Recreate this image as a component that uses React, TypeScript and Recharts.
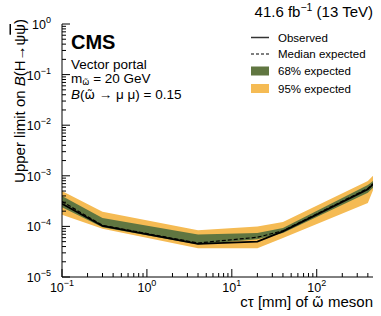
import React from "react";
import { Area, ComposedChart, Line, XAxis, YAxis } from "recharts";

// lifetime points (mm)
const ctau = [0.1, 0.3, 4, 20, 40, 400, 460];
const observed = [2.8e-4, 1.02e-4, 4.5e-5, 5.0e-5, 8.0e-5, 5.4e-4, 6.8e-4];
const median = [3.1e-4, 1.05e-4, 4.7e-5, 6.1e-5, 8.2e-5, 5.6e-4, 7.0e-4];
const band68Lo = [2.4e-4, 9.6e-5, 4.4e-5, 5.6e-5, 7.4e-5, 4.6e-4, 5.8e-4];
const band68Hi = [4.0e-4, 1.47e-4, 6.9e-5, 7.4e-5, 9.3e-5, 6.6e-4, 7.9e-4];
const band95Lo = [1.7e-4, 9.0e-5, 3.7e-5, 3.7e-5, 5.9e-5, 2.9e-4, 5.2e-4];
const band95Hi = [5.0e-4, 1.94e-4, 8.4e-5, 9.9e-5, 1.22e-4, 7.9e-4, 1.0e-3];

const xTicks = [
  0.1, 0.2, 0.3, 0.4, 0.5, 0.6, 0.7, 0.8, 0.9,
  1, 2, 3, 4, 5, 6, 7, 8, 9,
  10, 20, 30, 40, 50, 60, 70, 80, 90,
  100, 200, 300, 400,
];
const yTicks: number[] = [];
for (let e = -5; e < 0; e++) {
  for (let m = 1; m < 10; m++) yTicks.push(m * Math.pow(10, e));
}
yTicks.push(1);

const data = ctau.map((x, i) => ({
  x,
  observed: observed[i],
  median: median[i],
  band68: [band68Lo[i], band68Hi[i]],
  band95: [band95Lo[i], band95Hi[i]],
}));

const FONT = "'Liberation Sans', Arial, Helvetica, sans-serif";
const GREEN = "#607641";
const YELLOW = "#F5BB54";
const OMEGA_T = "\u03C9\u0303";

function isMajor(v: number) {
  const l = Math.log10(v);
  return Math.abs(l - Math.round(l)) < 1e-6;
}

function expLabel(v: number) {
  const e = Math.round(Math.log10(v));
  return e < 0 ? "\u2212" + Math.abs(e) : String(e);
}

const BottomTick = (props: any) => {
  const { x, y, payload } = props;
  const major = isMajor(payload.value);
  return (
    <g>
      <line x1={x} x2={x} y1={y} y2={y - (major ? 8 : 4)} stroke="#000" strokeWidth={1} />
      {major && (
        <text x={x} y={y + 15} textAnchor="middle" fontSize={12.5} fontFamily={FONT} fill="#000">
          10
          <tspan dy={-6} fontSize={9}>{expLabel(payload.value)}</tspan>
        </text>
      )}
    </g>
  );
};

const TopTick = (props: any) => {
  const { x, y, payload } = props;
  const major = isMajor(payload.value);
  return <line x1={x} x2={x} y1={y} y2={y + (major ? 8 : 4)} stroke="#000" strokeWidth={1} />;
};

const LeftTick = (props: any) => {
  const { x, y, payload } = props;
  const major = isMajor(payload.value);
  return (
    <g>
      <line x1={x} x2={x + (major ? 8 : 4)} y1={y} y2={y} stroke="#000" strokeWidth={1} />
      {major && (
        <text x={x - 11} y={y + 5} textAnchor="end" fontSize={12.5} fontFamily={FONT} fill="#000">
          10
          <tspan dy={-6} fontSize={9}>{expLabel(payload.value)}</tspan>
        </text>
      )}
    </g>
  );
};

const RightTick = (props: any) => {
  const { x, y, payload } = props;
  const major = isMajor(payload.value);
  return <line x1={x} x2={x - (major ? 8 : 4)} y1={y} y2={y} stroke="#000" strokeWidth={1} />;
};

export default function App() {
  return (
    <div style={{ position: "absolute", left: 0, top: 0, width: 381, height: 316, background: "#fff" }}>
      <ComposedChart width={381} height={316} data={data} margin={{ top: 24, right: 8, bottom: 9, left: 17 }}>
        <XAxis
          dataKey="x"
          type="number"
          scale="log"
          domain={[0.1, 460]}
          allowDataOverflow
          ticks={xTicks}
          interval={0}
          height={30}
          tickSize={0}
          tickMargin={0}
          tickLine={false}
          tick={<BottomTick />}
          axisLine={{ stroke: "#000" }}
        />
        <XAxis
          xAxisId="top"
          orientation="top"
          type="number"
          scale="log"
          domain={[0.1, 460]}
          allowDataOverflow
          ticks={xTicks}
          interval={0}
          height={0}
          tickSize={0}
          tickMargin={0}
          tickLine={false}
          tick={<TopTick />}
          axisLine={{ stroke: "#000" }}
        />
        <YAxis
          type="number"
          scale="log"
          domain={[1e-5, 1]}
          allowDataOverflow
          ticks={yTicks}
          interval={0}
          width={45}
          tickSize={0}
          tickMargin={0}
          tickLine={false}
          tick={<LeftTick />}
          axisLine={{ stroke: "#000" }}
        />
        <YAxis
          yAxisId="right"
          orientation="right"
          type="number"
          scale="log"
          domain={[1e-5, 1]}
          allowDataOverflow
          ticks={yTicks}
          interval={0}
          width={0}
          tickSize={0}
          tickMargin={0}
          tickLine={false}
          tick={<RightTick />}
          axisLine={{ stroke: "#000" }}
        />
        <Area type="linear" dataKey="band95" stroke="none" fill={YELLOW} fillOpacity={1} isAnimationActive={false} />
        <Area type="linear" dataKey="band68" stroke="none" fill={GREEN} fillOpacity={1} isAnimationActive={false} />
        <Line type="linear" dataKey="median" stroke="#000" strokeWidth={1.2} strokeDasharray="4 2" dot={false} isAnimationActive={false} />
        <Line type="linear" dataKey="observed" stroke="#000" strokeWidth={1.8} dot={false} isAnimationActive={false} />
      </ComposedChart>
      <svg
        width={381}
        height={316}
        style={{ position: "absolute", left: 0, top: 0, pointerEvents: "none" }}
        fontFamily={FONT}
      >
        <text x={373} y={17} textAnchor="end" fontSize={15}>
          41.6 fb<tspan dy={-6} fontSize={10.5}>−1</tspan>
          <tspan dy={6}> (13 TeV)</tspan>
        </text>
        <text x={71} y={49} fontSize={20} fontWeight="bold">CMS</text>
        <text x={71} y={68.5} fontSize={13.5}>Vector portal</text>
        <text x={71} y={83} fontSize={13.5}>
          m<tspan dy={2} fontSize={8.5} fontFamily="'DejaVu Sans'">{OMEGA_T}</tspan>
          <tspan dy={-2}> = 20 GeV</tspan>
        </text>
        <text x={71} y={98.5} fontSize={13.5}>
          <tspan fontStyle="italic">B</tspan>(<tspan fontFamily="'DejaVu Sans'" fontSize={12.5}>{OMEGA_T}</tspan> → μ μ) = 0.15
        </text>

        <line x1={251} x2={269} y1={37.5} y2={37.5} stroke="#333" strokeWidth={1.5} />
        <text x={278} y={41.5} fontSize={11.5}>Observed</text>
        <line x1={251} x2={269} y1={54} y2={54} stroke="#000" strokeWidth={1.2} strokeDasharray="3 2" />
        <text x={278} y={58} fontSize={11.5}>Median expected</text>
        <rect x={251} y={66.5} width={18} height={9} fill={GREEN} />
        <text x={278} y={75} fontSize={11.5}>68% expected</text>
        <rect x={251} y={84} width={18} height={9} fill={YELLOW} />
        <text x={278} y={92.5} fontSize={11.5}>95% expected</text>

        <text x={373} y={307} textAnchor="end" fontSize={15}>
          cτ [mm] of <tspan fontFamily="'DejaVu Sans'" fontSize={14}>{OMEGA_T}</tspan> meson
        </text>
        <text transform="translate(24.5,19) rotate(-90)" textAnchor="end" fontSize={15}>
          Upper limit on <tspan fontStyle="italic">B</tspan>(H→ψ
          <tspan textDecoration="overline">ψ</tspan>)
        </text>
      </svg>
    </div>
  );
}
